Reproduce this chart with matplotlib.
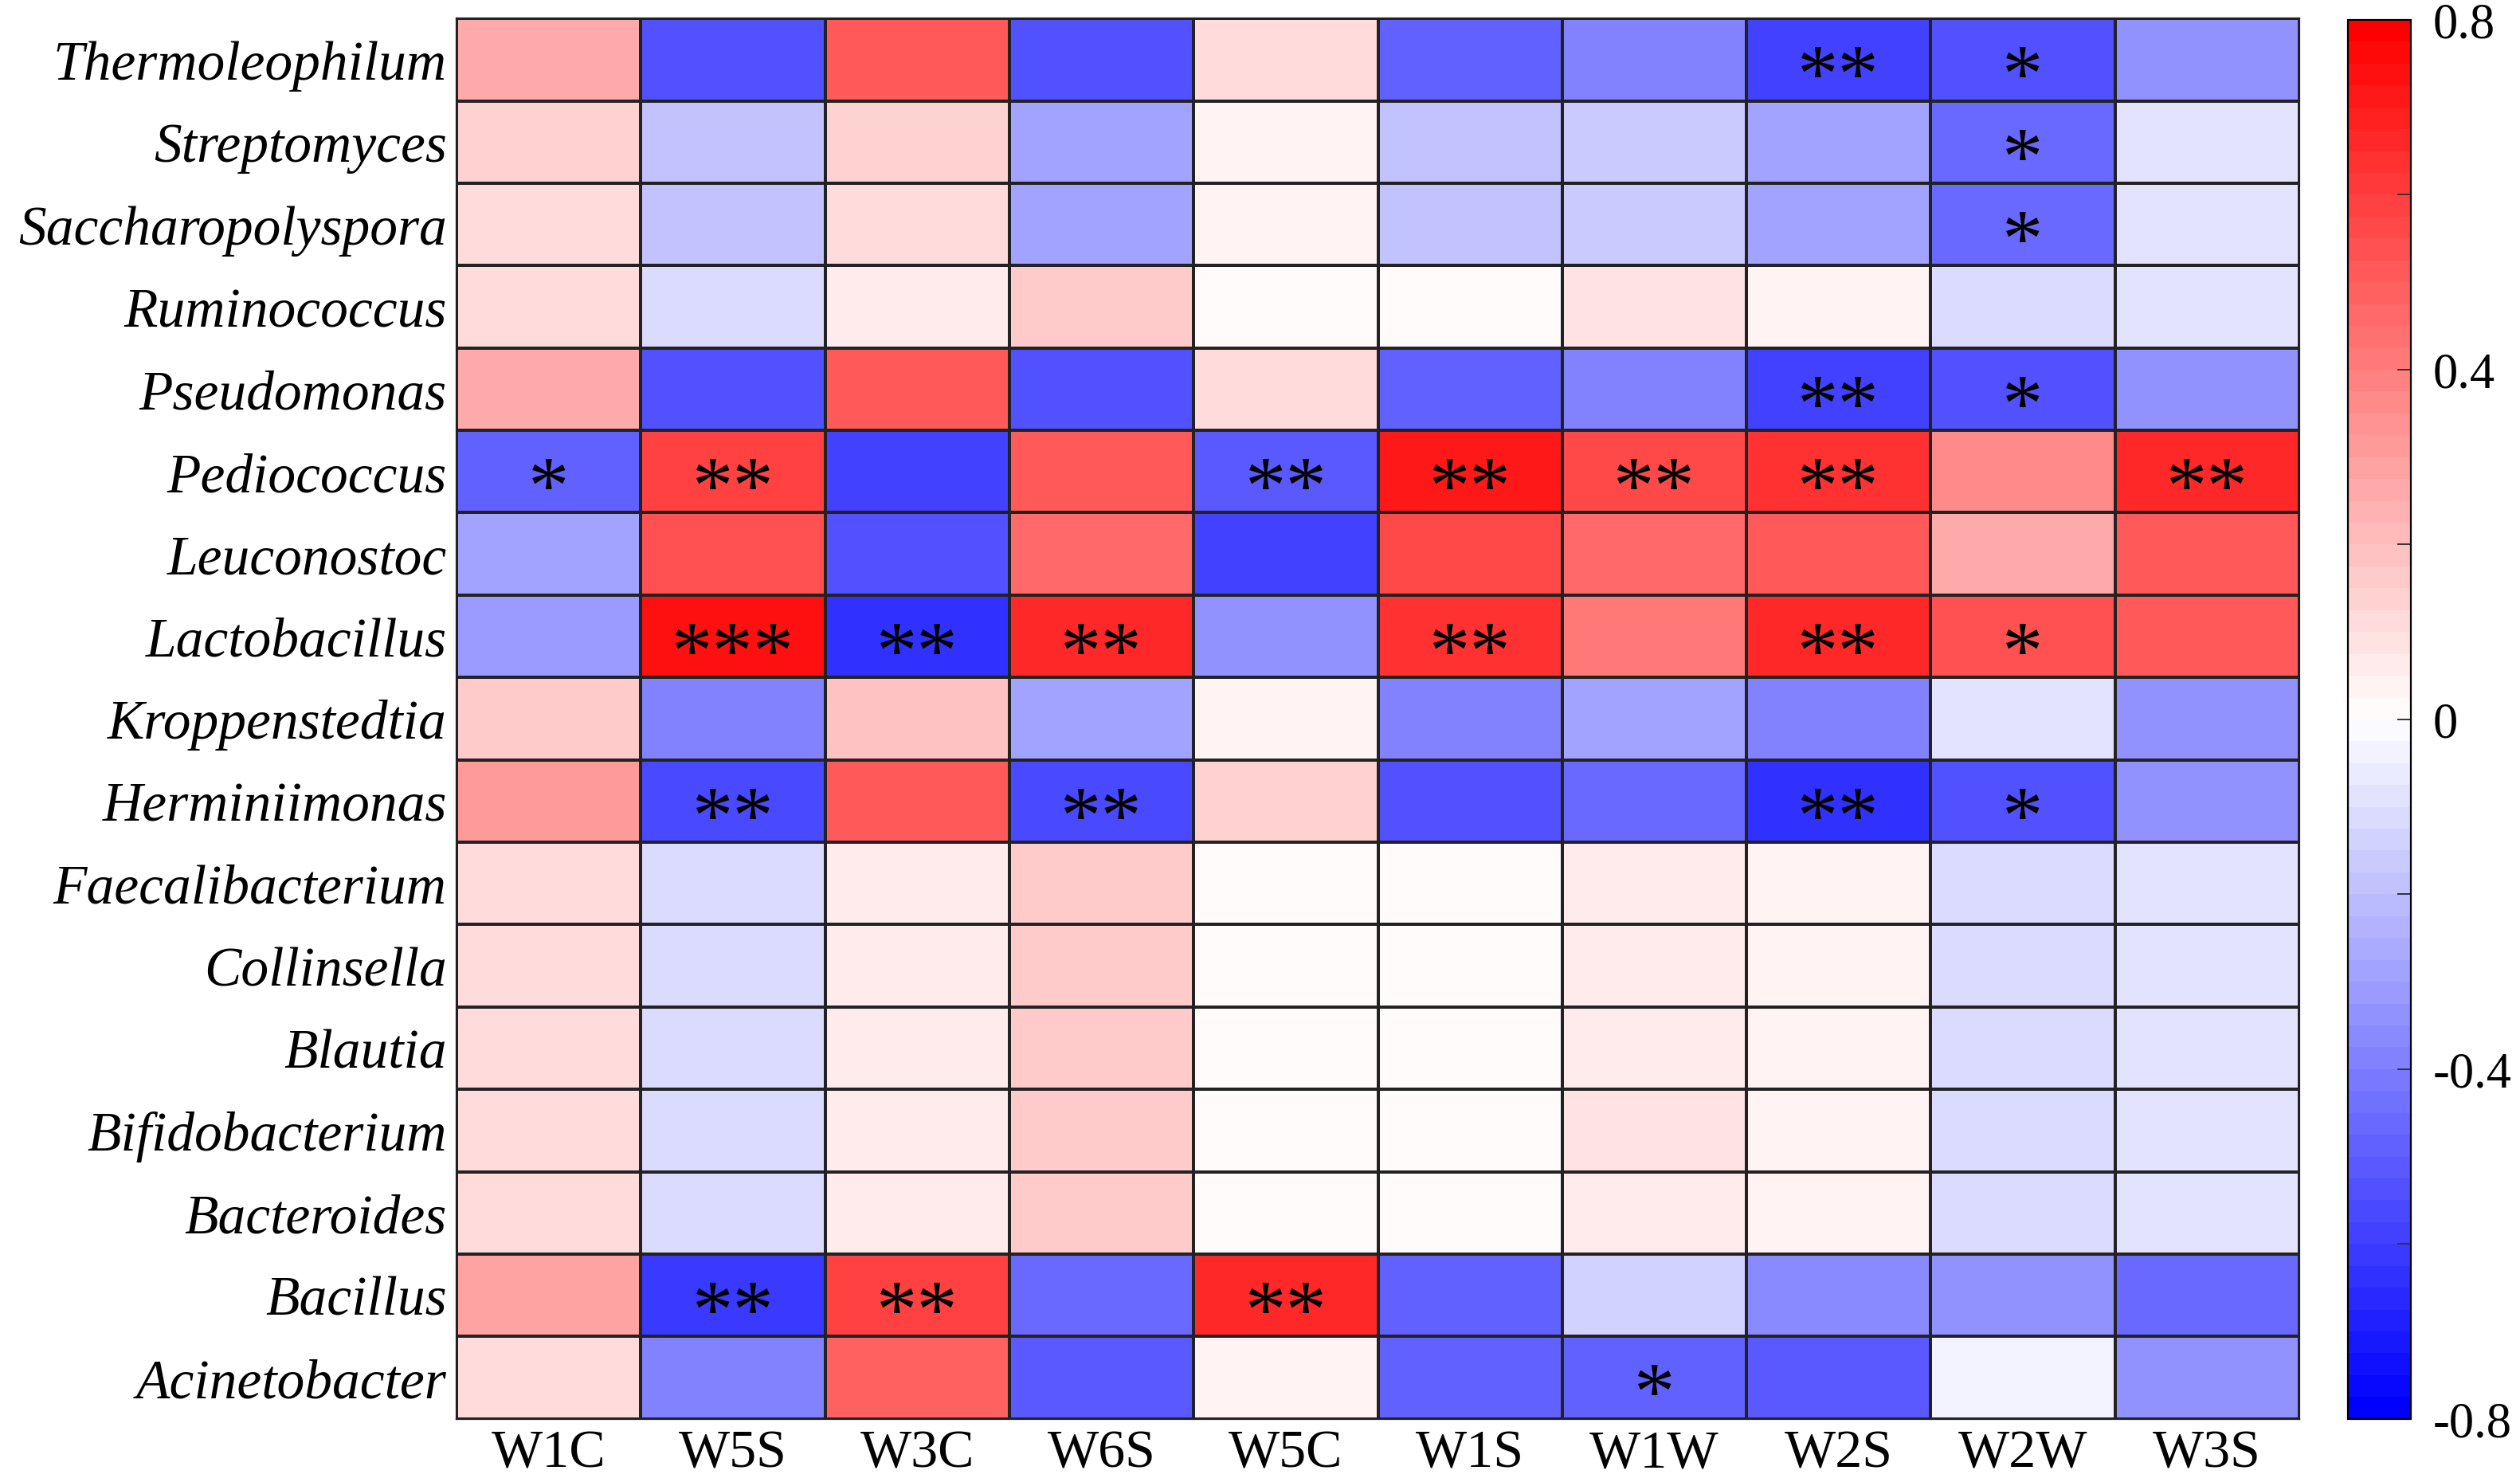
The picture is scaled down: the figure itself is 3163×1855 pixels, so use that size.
import matplotlib
matplotlib.use("Agg")
import matplotlib.pyplot as plt
import numpy as np

genera = ["Thermoleophilum", "Streptomyces", "Saccharopolyspora", "Ruminococcus",
          "Pseudomonas", "Pediococcus", "Leuconostoc", "Lactobacillus",
          "Kroppenstedtia", "Herminiimonas", "Faecalibacterium", "Collinsella",
          "Blautia", "Bifidobacterium", "Bacteroides", "Bacillus", "Acinetobacter"]
samples = ["W1C", "W5S", "W3C", "W6S", "W5C", "W1S", "W1W", "W2S", "W2W", "W3S"]

# correlation values, one row per genus (columns follow samples)
corr = [
    [0.27, -0.53, 0.50, -0.53, 0.12, -0.50, -0.40, -0.60, -0.55, -0.35],
    [0.13, -0.20, 0.13, -0.28, 0.03, -0.18, -0.17, -0.28, -0.47, -0.10],
    [0.12, -0.18, 0.12, -0.30, 0.03, -0.18, -0.17, -0.28, -0.47, -0.08],
    [0.10, -0.11, 0.07, 0.15, 0.02, 0.00, 0.08, 0.03, -0.11, -0.10],
    [0.27, -0.53, 0.50, -0.53, 0.12, -0.50, -0.40, -0.60, -0.53, -0.35],
    [-0.50, 0.60, -0.58, 0.50, -0.52, 0.70, 0.57, 0.63, 0.37, 0.65],
    [-0.30, 0.53, -0.55, 0.46, -0.60, 0.55, 0.46, 0.52, 0.25, 0.51],
    [-0.32, 0.73, -0.63, 0.65, -0.33, 0.63, 0.40, 0.67, 0.53, 0.51],
    [0.15, -0.40, 0.18, -0.30, 0.03, -0.38, -0.28, -0.38, -0.08, -0.35],
    [0.30, -0.57, 0.52, -0.57, 0.13, -0.55, -0.46, -0.63, -0.55, -0.35],
    [0.10, -0.11, 0.07, 0.15, 0.02, 0.00, 0.07, 0.03, -0.11, -0.10],
    [0.10, -0.11, 0.07, 0.15, 0.02, 0.00, 0.07, 0.03, -0.11, -0.09],
    [0.10, -0.11, 0.07, 0.15, 0.02, 0.00, 0.07, 0.03, -0.11, -0.10],
    [0.10, -0.11, 0.07, 0.15, 0.02, 0.00, 0.08, 0.03, -0.11, -0.10],
    [0.10, -0.11, 0.07, 0.15, 0.02, 0.00, 0.07, 0.03, -0.11, -0.10],
    [0.28, -0.62, 0.60, -0.47, 0.65, -0.50, -0.15, -0.37, -0.35, -0.46],
    [0.12, -0.40, 0.49, -0.52, 0.03, -0.50, -0.50, -0.52, -0.04, -0.35],
]

# significance marks, same layout as corr
stars = [
    ["", "", "", "", "", "", "", "**", "*", ""],
    ["", "", "", "", "", "", "", "", "*", ""],
    ["", "", "", "", "", "", "", "", "*", ""],
    ["", "", "", "", "", "", "", "", "", ""],
    ["", "", "", "", "", "", "", "**", "*", ""],
    ["*", "**", "", "", "**", "**", "**", "**", "", "**"],
    ["", "", "", "", "", "", "", "", "", ""],
    ["", "***", "**", "**", "", "**", "", "**", "*", ""],
    ["", "", "", "", "", "", "", "", "", ""],
    ["", "**", "", "**", "", "", "", "**", "*", ""],
    ["", "", "", "", "", "", "", "", "", ""],
    ["", "", "", "", "", "", "", "", "", ""],
    ["", "", "", "", "", "", "", "", "", ""],
    ["", "", "", "", "", "", "", "", "", ""],
    ["", "", "", "", "", "", "", "", "", ""],
    ["", "**", "**", "", "**", "", "", "", "", ""],
    ["", "", "", "", "", "", "*", "", "", ""],
]

cbar_ticks = [0.8, 0.4, 0, -0.4, -0.8]

plt.rcParams["font.family"] = ["Liberation Serif", "DejaVu Serif"]

data = np.array(corr)
cmap = matplotlib.colormaps["bwr"].resampled(64)

fig = plt.figure(figsize=(31.63, 18.56), dpi=100)
ax = fig.add_axes([0.1812, 0.0400, 0.7312, 0.9470])
cax = fig.add_axes([0.9317, 0.0400, 0.0250, 0.9460])

mesh = ax.pcolormesh(data, cmap=cmap, vmin=-0.8, vmax=0.8,
                     edgecolors="#222222", linewidth=1.6)
ax.set_xlim(0, len(samples))
ax.set_ylim(len(genera), 0)
ax.set_xticks(np.arange(len(samples)) + 0.5)
ax.set_xticklabels(samples, fontsize=49)
ax.set_yticks(np.arange(len(genera)) + 0.5)
ax.set_yticklabels(genera, fontsize=50, style="italic")
ax.tick_params(length=0, pad=9)
for s in ax.spines.values():
    s.set_linewidth(1.6)
    s.set_color("#222222")

for i, row in enumerate(stars):
    for j, s in enumerate(row):
        if s:
            ax.annotate(s, (j + 0.5, i + 0.5), xytext=(0, -37), textcoords="offset points",
                        ha="center", va="baseline", fontsize=74, color="black")

cb = fig.colorbar(mesh, cax=cax)
cb.set_ticks(np.arange(-0.8, 0.81, 0.2))
cb.set_ticklabels(["-0.8", "", "-0.4", "", "0", "", "0.4", "", "0.8"])
cb.ax.tick_params(direction="in", length=12, width=1.4, labelsize=45, pad=20, color="#333333")
cb.outline.set_linewidth(1.6)

fig.savefig("out.png", dpi=100)
